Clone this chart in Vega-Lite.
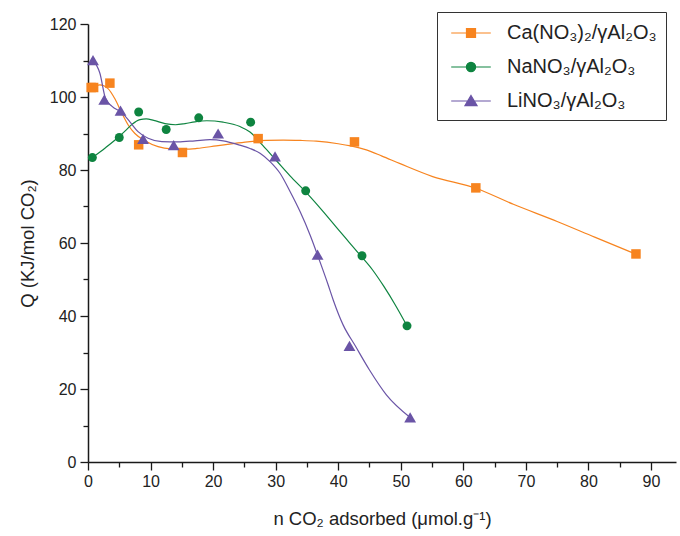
{
  "$schema": "https://vega.github.io/schema/vega-lite/v6.json",
  "width": 588,
  "height": 438,
  "autosize": {"type": "none"},
  "padding": {"left": 88, "top": 24, "right": 4, "bottom": 74},
  "background": "white",
  "config": {"view": {"stroke": null}, "font": "Liberation Sans"},
  "datasets": {
    "points": [
      {"series": "Ca", "x": 0.5, "q": 102.6},
      {"series": "Ca", "x": 0.9, "q": 102.6},
      {"series": "Ca", "x": 3.5, "q": 103.8},
      {"series": "Ca", "x": 8.1, "q": 86.9},
      {"series": "Ca", "x": 15.1, "q": 84.8},
      {"series": "Ca", "x": 27.2, "q": 88.6},
      {"series": "Ca", "x": 42.6, "q": 87.7},
      {"series": "Ca", "x": 62.0, "q": 75.1},
      {"series": "Ca", "x": 87.6, "q": 57.0},
      {"series": "Na", "x": 0.7, "q": 83.4},
      {"series": "Na", "x": 5.0, "q": 88.9},
      {"series": "Na", "x": 8.1, "q": 95.9},
      {"series": "Na", "x": 12.5, "q": 91.1},
      {"series": "Na", "x": 17.7, "q": 94.3},
      {"series": "Na", "x": 26.0, "q": 93.1},
      {"series": "Na", "x": 34.8, "q": 74.3},
      {"series": "Na", "x": 43.8, "q": 56.5},
      {"series": "Na", "x": 51.0, "q": 37.3},
      {"series": "Li", "x": 0.8, "q": 110.1},
      {"series": "Li", "x": 2.6, "q": 99.3},
      {"series": "Li", "x": 5.2, "q": 96.3},
      {"series": "Li", "x": 8.8, "q": 88.5},
      {"series": "Li", "x": 13.7, "q": 86.8},
      {"series": "Li", "x": 20.8, "q": 90.0},
      {"series": "Li", "x": 29.9, "q": 83.7},
      {"series": "Li", "x": 36.7, "q": 56.8},
      {"series": "Li", "x": 41.8, "q": 31.8},
      {"series": "Li", "x": 51.5, "q": 12.2}
    ],
    "curves": [
      {"series": "Ca", "x": 0.6, "q": 102.6},
      {"series": "Ca", "x": 1.9, "q": 103.3},
      {"series": "Ca", "x": 3.2, "q": 102.3},
      {"series": "Ca", "x": 4.3, "q": 99.5},
      {"series": "Ca", "x": 5.4, "q": 95.6},
      {"series": "Ca", "x": 6.4, "q": 92.4},
      {"series": "Ca", "x": 7.5, "q": 90.0},
      {"series": "Ca", "x": 9.1, "q": 88.0},
      {"series": "Ca", "x": 11.2, "q": 86.4},
      {"series": "Ca", "x": 13.3, "q": 85.8},
      {"series": "Ca", "x": 15.5, "q": 85.7},
      {"series": "Ca", "x": 17.4, "q": 85.9},
      {"series": "Ca", "x": 20.5, "q": 86.6},
      {"series": "Ca", "x": 23.5, "q": 87.3},
      {"series": "Ca", "x": 25.9, "q": 87.8},
      {"series": "Ca", "x": 28.5, "q": 88.1},
      {"series": "Ca", "x": 31.2, "q": 88.2},
      {"series": "Ca", "x": 34.0, "q": 88.1},
      {"series": "Ca", "x": 36.5, "q": 87.9},
      {"series": "Ca", "x": 40.0, "q": 87.2},
      {"series": "Ca", "x": 42.0, "q": 86.6},
      {"series": "Ca", "x": 44.5, "q": 85.5},
      {"series": "Ca", "x": 47.0, "q": 83.8},
      {"series": "Ca", "x": 49.8, "q": 81.8},
      {"series": "Ca", "x": 55.1, "q": 78.2},
      {"series": "Ca", "x": 62.0, "q": 75.0},
      {"series": "Ca", "x": 68.0, "q": 70.6},
      {"series": "Ca", "x": 75.0, "q": 65.9},
      {"series": "Ca", "x": 81.0, "q": 61.6},
      {"series": "Ca", "x": 87.5, "q": 57.0},
      {"series": "Na", "x": 0.7, "q": 83.4},
      {"series": "Na", "x": 2.8, "q": 86.1},
      {"series": "Na", "x": 4.8, "q": 88.9},
      {"series": "Na", "x": 6.0, "q": 90.8},
      {"series": "Na", "x": 7.1, "q": 92.6},
      {"series": "Na", "x": 8.3, "q": 93.8},
      {"series": "Na", "x": 9.3, "q": 94.0},
      {"series": "Na", "x": 10.5, "q": 93.6},
      {"series": "Na", "x": 12.3, "q": 92.7},
      {"series": "Na", "x": 14.0, "q": 92.4},
      {"series": "Na", "x": 15.5, "q": 92.7},
      {"series": "Na", "x": 17.1, "q": 93.2},
      {"series": "Na", "x": 19.0, "q": 93.5},
      {"series": "Na", "x": 21.6, "q": 93.1},
      {"series": "Na", "x": 24.3, "q": 91.9},
      {"series": "Na", "x": 25.9, "q": 90.4},
      {"series": "Na", "x": 27.9, "q": 86.8},
      {"series": "Na", "x": 30.1, "q": 82.6},
      {"series": "Na", "x": 32.3, "q": 78.4},
      {"series": "Na", "x": 34.8, "q": 74.0},
      {"series": "Na", "x": 37.6, "q": 68.6},
      {"series": "Na", "x": 40.3, "q": 63.1},
      {"series": "Na", "x": 43.5, "q": 56.7},
      {"series": "Na", "x": 45.5, "q": 52.6},
      {"series": "Na", "x": 47.3, "q": 48.1},
      {"series": "Na", "x": 49.1, "q": 43.1},
      {"series": "Na", "x": 51.0, "q": 37.3},
      {"series": "Li", "x": 0.7, "q": 110.2},
      {"series": "Li", "x": 1.9, "q": 106.5},
      {"series": "Li", "x": 2.8, "q": 99.6},
      {"series": "Li", "x": 3.8, "q": 97.5},
      {"series": "Li", "x": 5.5, "q": 95.6},
      {"series": "Li", "x": 6.7, "q": 93.2},
      {"series": "Li", "x": 8.0, "q": 90.5},
      {"series": "Li", "x": 9.6, "q": 88.7},
      {"series": "Li", "x": 11.8, "q": 87.8},
      {"series": "Li", "x": 14.4, "q": 87.7},
      {"series": "Li", "x": 17.1, "q": 88.0},
      {"series": "Li", "x": 19.5, "q": 88.3},
      {"series": "Li", "x": 21.6, "q": 88.0},
      {"series": "Li", "x": 24.3, "q": 86.8},
      {"series": "Li", "x": 25.9, "q": 85.9},
      {"series": "Li", "x": 27.5, "q": 84.6},
      {"series": "Li", "x": 29.1, "q": 82.3},
      {"series": "Li", "x": 30.7, "q": 79.1},
      {"series": "Li", "x": 32.3, "q": 74.1},
      {"series": "Li", "x": 33.9, "q": 68.6},
      {"series": "Li", "x": 35.5, "q": 62.2},
      {"series": "Li", "x": 36.8, "q": 56.2},
      {"series": "Li", "x": 38.4, "q": 48.5},
      {"series": "Li", "x": 39.2, "q": 44.4},
      {"series": "Li", "x": 40.8, "q": 37.5},
      {"series": "Li", "x": 42.7, "q": 31.9},
      {"series": "Li", "x": 45.0, "q": 25.2},
      {"series": "Li", "x": 47.7, "q": 18.4},
      {"series": "Li", "x": 51.5, "q": 12.2}
    ]
  },
  "encoding": {
    "x": {
      "field": "x",
      "type": "quantitative",
      "scale": {"domain": [0, 94], "nice": false, "zero": false},
      "title": "n CO₂ adsorbed (μmol.g⁻¹)",
      "axis": {
        "values": [0, 5, 10, 15, 20, 25, 30, 35, 40, 45, 50, 55, 60, 65, 70, 75, 80, 85, 90],
        "labelExpr": "datum.value % 10 === 0 ? datum.label : ''",
        "grid": false,
        "domainColor": "#1a1a1a",
        "domainWidth": 1.5,
        "tickColor": "#1a1a1a",
        "tickWidth": 1.3,
        "tickSize": {"condition": {"test": "datum.value % 10 === 0", "value": 8}, "value": 5},
        "labelFontSize": 16,
        "labelColor": "#222",
        "labelPadding": 3,
        "labelFlush": false,
        "labelOverlap": false,
        "titleFontSize": 18.5,
        "titleFontWeight": "normal",
        "titleColor": "#222",
        "titlePadding": 20
      }
    },
    "y": {
      "field": "q",
      "type": "quantitative",
      "scale": {"domain": [0, 120], "nice": false},
      "title": "Q (KJ/mol CO₂)",
      "axis": {
        "values": [0, 10, 20, 30, 40, 50, 60, 70, 80, 90, 100, 110, 120],
        "labelExpr": "datum.value % 20 === 0 ? datum.label : ''",
        "grid": false,
        "domainColor": "#1a1a1a",
        "domainWidth": 1.5,
        "tickColor": "#1a1a1a",
        "tickWidth": 1.3,
        "tickSize": {"condition": {"test": "datum.value % 20 === 0", "value": 8}, "value": 5},
        "labelFontSize": 16,
        "labelColor": "#222",
        "labelPadding": 4,
        "labelFlush": false,
        "labelOverlap": false,
        "titleFontSize": 18.5,
        "titleFontWeight": "normal",
        "titleColor": "#222",
        "titlePadding": 12
      }
    },
    "color": {
      "field": "series",
      "type": "nominal",
      "scale": {"domain": ["Ca", "Na", "Li"], "range": ["#F7841F", "#0E8440", "#6A54A6"]},
      "legend": {
        "orient": "none",
        "legendX": 349,
        "legendY": -12,
        "title": null,
        "labelExpr": "datum.value === 'Ca' ? 'Ca(NO₃)₂/γAl₂O₃' : datum.value === 'Na' ? 'NaNO₃/γAl₂O₃' : 'LiNO₃/γAl₂O₃'",
        "labelFontSize": 20,
        "labelColor": "#222",
        "labelOffset": 24,
        "symbolSize": 484,
        "symbolOffset": 13,
        "symbolStrokeWidth": 1.2,
        "rowPadding": 12,
        "padding": 9,
        "strokeColor": "#333",
        "fillColor": "white",
        "encode": {
          "symbols": {
            "update": {
              "shape": {"signal": "datum.value === 'Ca' ? 'M-1.8,0H1.8M-0.41,-0.41H0.41V0.41H-0.41Z' : datum.value === 'Na' ? 'M-1.8,0H1.8M-0.42,0A0.42,0.42,0,1,0,0.42,0A0.42,0.42,0,1,0,-0.42,0Z' : 'M-1.8,0H1.8M0,-0.5L0.55,0.42H-0.55Z'"},
              "fill": {"signal": "scale('color', datum.value)"},
              "stroke": {"signal": "scale('color', datum.value)"},
              "size": {"value": 484},
              "strokeWidth": {"value": 1.2},
              "opacity": {"value": 1}
            }
          }
        }
      }
    }
  },
  "layer": [
    {
      "data": {"name": "curves"},
      "mark": {"type": "line", "interpolate": "monotone", "strokeWidth": 1.2}
    },
    {
      "data": {"name": "points"},
      "transform": [{"filter": "datum.series === 'Ca'"}],
      "mark": {"type": "point", "shape": "square", "size": 90, "filled": true, "opacity": 1}
    },
    {
      "data": {"name": "points"},
      "transform": [{"filter": "datum.series === 'Na'"}],
      "mark": {"type": "point", "shape": "circle", "size": 80, "filled": true, "opacity": 1}
    },
    {
      "data": {"name": "points"},
      "transform": [{"filter": "datum.series === 'Li'"}],
      "mark": {"type": "point", "shape": "triangle-up", "size": 140, "filled": true, "opacity": 1}
    }
  ]
}
